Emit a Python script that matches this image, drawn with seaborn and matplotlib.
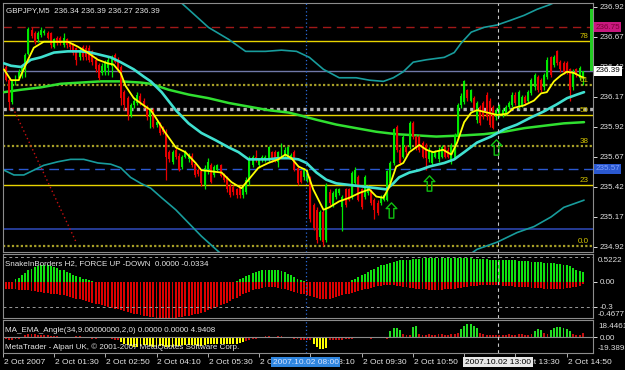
import numpy as np
import matplotlib
matplotlib.use("Agg")
import matplotlib.pyplot as plt
import matplotlib.transforms as mtransforms
from matplotlib.path import Path
import seaborn as sns

# ---------------- data ----------------
opens = [236.42, 236.31, 236.13, 236.30, 236.33, 236.35, 236.40, 236.53, 236.73, 236.70,
         236.65, 236.69, 236.70, 236.70, 236.70, 236.59, 236.66, 236.66, 236.60, 236.65,
         236.61, 236.61, 236.58, 236.50, 236.59, 236.58, 236.58, 236.55, 236.48, 236.44,
         236.37, 236.38, 236.41, 236.43, 236.52, 236.48, 236.42, 236.21, 236.16, 236.02,
         236.10, 236.12, 236.18, 236.14, 236.09, 236.00, 236.06, 235.94, 235.95, 235.91,
         235.88, 235.71, 235.63, 235.73, 235.68, 235.59, 235.67, 235.65, 235.68, 235.61,
         235.56, 235.55, 235.44, 235.55, 235.60, 235.52, 235.56, 235.60, 235.52, 235.50,
         235.43, 235.42, 235.40, 235.41, 235.35, 235.38, 235.46, 235.60, 235.67, 235.60,
         235.65, 235.65, 235.65, 235.71, 235.71, 235.63, 235.67, 235.68, 235.67, 235.67,
         235.71, 235.58, 235.55, 235.50, 235.48, 235.50, 235.27, 235.23, 235.00, 235.21,
         234.98, 235.38, 235.27, 235.34, 235.37, 235.25, 235.40, 235.40, 235.34, 235.45,
         235.50, 235.40, 235.34, 235.37, 235.38, 235.31, 235.29, 235.29, 235.31, 235.31,
         235.45, 235.62, 235.92, 235.73, 235.67, 235.75, 235.75, 235.95, 235.84, 235.84,
         235.79, 235.77, 235.65, 235.62, 235.67, 235.65, 235.67, 235.75, 235.73, 235.63,
         235.66, 235.84, 236.10, 236.13, 236.23, 236.14, 236.16, 235.98, 236.09, 236.12,
         236.19, 236.14, 236.09, 236.00, 236.02, 236.02, 236.04, 236.09, 236.10, 236.19,
         236.09, 236.10, 236.17, 236.14, 236.20, 236.25, 236.34, 236.31, 236.25, 236.34,
         236.50, 236.44, 236.55, 236.46, 236.45, 236.45, 236.40, 236.25, 236.40, 236.33,
         236.34]
highs = [236.44, 236.33, 236.31, 236.35, 236.40, 236.43, 236.54, 236.75, 236.75, 236.72,
         236.72, 236.75, 236.74, 236.72, 236.71, 236.66, 236.68, 236.68, 236.70, 236.66,
         236.63, 236.62, 236.59, 236.58, 236.60, 236.60, 236.60, 236.56, 236.50, 236.45,
         236.45, 236.48, 236.50, 236.52, 236.54, 236.50, 236.44, 236.23, 236.18, 236.12,
         236.17, 236.21, 236.20, 236.16, 236.10, 236.08, 236.08, 235.98, 235.96, 235.93,
         235.90, 235.73, 235.73, 235.75, 235.70, 235.69, 235.73, 235.70, 235.70, 235.63,
         235.58, 235.56, 235.60, 235.66, 235.62, 235.60, 235.61, 235.61, 235.54, 235.51,
         235.45, 235.44, 235.41, 235.43, 235.43, 235.50, 235.68, 235.69, 235.73, 235.66,
         235.69, 235.69, 235.76, 235.72, 235.73, 235.72, 235.79, 235.75, 235.76, 235.70,
         235.73, 235.60, 235.56, 235.58, 235.57, 235.51, 235.29, 235.25, 235.23, 235.23,
         235.45, 235.40, 235.39, 235.41, 235.41, 235.35, 235.41, 235.41, 235.55, 235.59,
         235.52, 235.41, 235.52, 235.44, 235.40, 235.33, 235.31, 235.35, 235.36, 235.56,
         235.64, 235.91, 235.94, 235.75, 235.85, 235.77, 235.97, 235.97, 235.85, 235.85,
         235.80, 235.79, 235.75, 235.72, 235.73, 235.75, 235.77, 235.77, 235.75, 235.79,
         235.87, 236.12, 236.20, 236.31, 236.24, 236.24, 236.18, 236.14, 236.10, 236.14,
         236.21, 236.16, 236.10, 236.08, 236.11, 236.08, 236.10, 236.14, 236.21, 236.21,
         236.23, 236.19, 236.19, 236.23, 236.33, 236.37, 236.35, 236.33, 236.37, 236.50,
         236.51, 236.52, 236.56, 236.48, 236.47, 236.47, 236.41, 236.40, 236.41, 236.43,
         236.39]
lows = [236.30, 236.06, 236.11, 236.27, 236.31, 236.33, 236.34, 236.52, 236.66, 236.61,
        236.63, 236.67, 236.69, 236.65, 236.58, 236.58, 236.60, 236.60, 236.59, 236.58,
        236.56, 236.52, 236.44, 236.48, 236.48, 236.48, 236.46, 236.44, 236.38, 236.31,
        236.35, 236.35, 236.35, 236.34, 236.45, 236.38, 236.10, 236.06, 235.98, 236.00,
        236.08, 236.10, 236.10, 236.08, 235.98, 235.91, 235.91, 235.92, 235.85, 235.86,
        235.48, 235.63, 235.61, 235.65, 235.55, 235.57, 235.66, 235.63, 235.59, 235.50,
        235.51, 235.43, 235.40, 235.53, 235.45, 235.50, 235.55, 235.50, 235.46, 235.38,
        235.34, 235.35, 235.33, 235.33, 235.33, 235.36, 235.44, 235.59, 235.63, 235.58,
        235.63, 235.63, 235.63, 235.63, 235.63, 235.59, 235.66, 235.66, 235.66, 235.66,
        235.55, 235.44, 235.45, 235.48, 235.46, 235.13, 235.06, 234.95, 234.98, 234.93,
        234.96, 235.27, 235.25, 235.32, 235.35, 235.05, 235.25, 235.30, 235.32, 235.44,
        235.30, 235.24, 235.32, 235.35, 235.27, 235.15, 235.19, 235.27, 235.30, 235.30,
        235.44, 235.60, 235.71, 235.60, 235.66, 235.69, 235.74, 235.82, 235.73, 235.71,
        235.66, 235.56, 235.63, 235.60, 235.66, 235.63, 235.66, 235.66, 235.66, 235.61,
        235.65, 235.82, 236.08, 236.11, 236.14, 236.13, 236.06, 235.95, 235.94, 235.99,
        235.98, 235.92, 235.90, 235.98, 236.00, 236.00, 236.02, 236.07, 236.09, 236.10,
        236.07, 236.09, 236.10, 236.13, 236.19, 236.23, 236.21, 236.21, 236.23, 236.32,
        236.34, 236.42, 236.44, 236.38, 236.36, 236.36, 236.14, 236.23, 236.34, 236.31,
        236.27]
closes = [236.31, 236.13, 236.30, 236.34, 236.38, 236.41, 236.52, 236.74, 236.68, 236.63,
          236.70, 236.73, 236.72, 236.66, 236.60, 236.65, 236.62, 236.62, 236.66, 236.60,
          236.59, 236.54, 236.48, 236.56, 236.50, 236.50, 236.48, 236.46, 236.40, 236.33,
          236.43, 236.45, 236.48, 236.50, 236.46, 236.40, 236.16, 236.10, 236.02, 236.10,
          236.14, 236.19, 236.12, 236.10, 236.00, 236.06, 235.92, 235.96, 235.87, 235.88,
          235.67, 235.65, 235.71, 235.67, 235.56, 235.67, 235.71, 235.69, 235.60, 235.52,
          235.53, 235.45, 235.58, 235.63, 235.46, 235.59, 235.60, 235.51, 235.48, 235.40,
          235.35, 235.38, 235.35, 235.35, 235.41, 235.48, 235.66, 235.67, 235.65, 235.65,
          235.67, 235.67, 235.75, 235.65, 235.65, 235.71, 235.75, 235.73, 235.75, 235.69,
          235.56, 235.45, 235.46, 235.56, 235.55, 235.15, 235.08, 234.98, 235.21, 234.96,
          235.44, 235.29, 235.37, 235.40, 235.40, 235.34, 235.27, 235.31, 235.54, 235.56,
          235.31, 235.25, 235.50, 235.42, 235.29, 235.23, 235.20, 235.34, 235.35, 235.55,
          235.62, 235.90, 235.73, 235.62, 235.84, 235.71, 235.95, 235.84, 235.75, 235.73,
          235.67, 235.66, 235.73, 235.71, 235.71, 235.73, 235.75, 235.67, 235.67, 235.77,
          235.85, 236.10, 236.18, 236.30, 236.16, 236.23, 236.08, 236.12, 235.95, 236.00,
          236.00, 235.94, 235.91, 236.06, 236.10, 236.06, 236.09, 236.12, 236.19, 236.12,
          236.21, 236.17, 236.12, 236.21, 236.31, 236.35, 236.23, 236.23, 236.35, 236.48,
          236.35, 236.50, 236.45, 236.40, 236.38, 236.38, 236.23, 236.38, 236.35, 236.41,
          236.39]

# moving averages / bands: (bar position, price) read at sample points
yellow_k = [-0.6, 1.6, 4.0, 6.9, 8.7, 11.8, 15.0, 19.3, 22.4, 25.5, 28.7, 31.8, 33.6, 35.8, 37.4,
            39.9, 43.0, 45.2, 46.7, 49.8, 53.0, 56.0, 59.2, 61.0, 64.2, 67.3, 70.4, 73.5, 75.7,
            78.8, 81.9, 85.0, 87.2, 89.1, 91.3, 93.8, 95.9, 99.1, 100.9, 104.0, 107.2, 110.3,
            113.4, 115.6, 117.8, 119.6, 121.8, 124.0, 125.9, 129.0, 131.2, 133.3, 136.4, 139.0,
            140.8, 143.0, 145.2, 147.0, 150.2, 153.3, 156.4, 158.6, 161.7, 164.8, 167.0, 168.8,
            171.0, 173.2, 175.1, 177.3, 179.4, 180.4]
yellow_p = [236.40, 236.31, 236.31, 236.48, 236.58, 236.63, 236.63, 236.63, 236.59, 236.54,
            236.48, 236.45, 236.44, 236.37, 236.26, 236.16, 236.10, 236.06, 236.00, 235.87,
            235.75, 235.71, 235.62, 235.56, 235.55, 235.54, 235.46, 235.41, 235.48, 235.58,
            235.62, 235.65, 235.69, 235.66, 235.59, 235.56, 235.40, 235.23, 235.25, 235.30,
            235.33, 235.37, 235.40, 235.34, 235.33, 235.42, 235.59, 235.62, 235.71, 235.77,
            235.73, 235.71, 235.73, 235.69, 235.79, 235.96, 236.04, 236.06, 236.04, 236.02,
            236.03, 236.08, 236.10, 236.14, 236.20, 236.21, 236.30, 236.35, 236.38, 236.37,
            236.34, 236.33]
cyan_k = [-0.6, 1.6, 4.7, 7.8, 10.9, 15.0, 19.3, 23.4, 26.5, 29.6, 32.7, 35.8, 39.9, 43.0, 45.2,
          48.6, 53.0, 57.0, 61.0, 65.4, 69.5, 72.6, 75.7, 78.8, 81.9, 85.0, 88.2, 91.3, 93.8,
          96.9, 100.0, 103.1, 106.2, 109.3, 112.5, 115.6, 118.7, 120.9, 122.7, 125.9, 129.0,
          132.1, 136.8, 139.9, 143.0, 147.0, 151.4, 155.5, 159.5, 163.9, 167.9, 172.0, 175.1,
          178.2, 180.4]
cyan_p = [236.45, 236.43, 236.42, 236.48, 236.50, 236.54, 236.55, 236.55, 236.54, 236.52,
          236.50, 236.46, 236.40, 236.34, 236.30, 236.21, 236.06, 235.95, 235.87, 235.81,
          235.75, 235.71, 235.65, 235.65, 235.65, 235.66, 235.66, 235.65, 235.62, 235.54,
          235.48, 235.45, 235.44, 235.43, 235.42, 235.41, 235.40, 235.45, 235.50, 235.54,
          235.56, 235.59, 235.62, 235.65, 235.71, 235.79, 235.84, 235.90, 235.94, 236.00,
          236.05, 236.11, 236.16, 236.19, 236.21]
green_k = [-0.6, 4.7, 10.9, 17.1, 23.4, 29.6, 35.8, 42.1, 45.2, 50.8, 57.0, 63.2, 69.5, 75.7,
           81.9, 88.2, 91.3, 96.9, 103.1, 109.3, 115.6, 121.8, 128.0, 134.3, 143.0, 149.2,
           155.5, 161.7, 167.9, 174.1, 180.4]
green_p = [236.21, 236.23, 236.25, 236.28, 236.29, 236.30, 236.30, 236.29, 236.28, 236.23,
           236.19, 236.16, 236.12, 236.09, 236.06, 236.04, 236.02, 235.98, 235.94, 235.91,
           235.88, 235.86, 235.85, 235.84, 235.85, 235.86, 235.88, 235.91, 235.93, 235.95,
           235.96]
upper_k = [51.4, 54.5, 57.0, 63.2, 69.5, 74.8, 81.0, 86.0, 90.7, 94.7, 99.1, 104.0, 109.3,
           113.4, 117.8, 120.9, 124.0, 127.1, 131.2, 136.8, 139.9, 142.1, 145.2, 149.2, 153.3,
           157.6, 161.7, 165.7, 169.8, 174.5]
upper_p = [237.02, 236.96, 236.90, 236.75, 236.65, 236.55, 236.55, 236.56, 236.55, 236.50,
           236.40, 236.33, 236.33, 236.31, 236.30, 236.33, 236.38, 236.46, 236.48, 236.50,
           236.54, 236.62, 236.71, 236.75, 236.77, 236.81, 236.85, 236.90, 236.94, 237.00]
lower1_k = [-0.6, 2.5, 5.6, 8.7, 11.8, 16.2, 20.2, 24.3, 28.7, 32.7, 35.8, 38.9, 42.1, 45.2,
            48.6, 53.0, 57.0, 61.0, 66.4, 70.0]
lower1_p = [235.56, 235.52, 235.52, 235.56, 235.60, 235.63, 235.65, 235.65, 235.62, 235.61,
            235.58, 235.50, 235.45, 235.41, 235.33, 235.23, 235.12, 235.01, 234.88, 234.80]
lower2_k = [141.7, 147.0, 153.3, 159.5, 164.8, 170.1, 174.1, 180.4]
lower2_p = [234.80, 234.90, 234.96, 235.04, 235.09, 235.17, 235.25, 235.31]

trend_k = [2.2, 22.1]
trend_p = [236.08, 234.95]
arrow_k = [120.2, 132.1, 153.0]
arrow_p = [235.23, 235.45, 235.75]

fib_prices = [236.64, 236.27, 236.02, 235.76, 235.44, 234.93]
fib_labels = ["78", "61", "50", "38", "23", "0.0"]
fib_kind = ["solid", "dot", "solid", "dot", "solid", "dot"]
day_high = 236.75
bid = 236.39
silver_level = 236.07
blue_dash_level = 235.57
blue_solid_level = 235.07
range_bar = [236.39, 236.90]

price_ticks = [234.92, 235.17, 235.42, 235.67, 235.92, 236.17, 236.42, 236.67, 236.92]

snake_up = [0, 0, 0, 0.03, 0.05, 0.08, 0.11, 0.14, 0.16, 0.18, 0.19, 0.2, 0.2, 0.2, 0.19, 0.18,
            0.17, 0.15, 0.14, 0.12, 0.11, 0.09, 0.07, 0.06, 0.04, 0.03, 0.02, 0.01,
            0, 0, 0, 0, 0, 0, 0, 0, 0, 0, 0, 0, 0, 0, 0, 0, 0, 0, 0, 0, 0, 0,
            0, 0, 0, 0, 0, 0, 0, 0, 0, 0, 0, 0, 0, 0, 0, 0, 0, 0, 0, 0, 0, 0,
            0.01, 0.03, 0.05, 0.07, 0.09, 0.11, 0.12, 0.13, 0.14, 0.15, 0.15, 0.15, 0.14, 0.14,
            0.13, 0.12, 0.1, 0.08, 0.06, 0.04, 0.02, 0.01,
            0, 0, 0, 0, 0, 0, 0, 0, 0, 0, 0, 0, 0, 0,
            0.02, 0.04, 0.06, 0.08, 0.1, 0.12, 0.14, 0.16, 0.18, 0.2,
            0.21, 0.22, 0.23, 0.24, 0.25, 0.26, 0.26, 0.27, 0.27, 0.28,
            0.28, 0.28, 0.29, 0.29, 0.29, 0.29, 0.29, 0.29, 0.29, 0.29, 0.29, 0.29, 0.29,
            0.29, 0.29, 0.29, 0.29, 0.29, 0.28, 0.28, 0.28, 0.28, 0.28,
            0.27, 0.27, 0.27, 0.27, 0.27, 0.26, 0.26, 0.26, 0.26, 0.25,
            0.25, 0.25, 0.25, 0.24, 0.24, 0.24, 0.24, 0.23, 0.23, 0.23,
            0.23, 0.22, 0.22, 0.21, 0.2, 0.19, 0.17, 0.15, 0.13, 0.12]
snake_down = [-0.08, -0.08, -0.09, -0.09, -0.1, -0.1, -0.1, -0.1, -0.11, -0.11, -0.12,
              -0.12, -0.13, -0.13, -0.14, -0.14, -0.15, -0.16, -0.16, -0.17, -0.18,
              -0.19, -0.2, -0.21, -0.22, -0.23, -0.24, -0.25, -0.26, -0.27, -0.28,
              -0.29, -0.3, -0.31, -0.32, -0.33, -0.34, -0.35, -0.36, -0.37, -0.38,
              -0.39, -0.4, -0.41, -0.41, -0.42, -0.42, -0.43, -0.43, -0.43, -0.43,
              -0.43, -0.43, -0.43, -0.42, -0.42, -0.41, -0.41, -0.4, -0.39, -0.38,
              -0.37, -0.36, -0.34, -0.33, -0.31, -0.3, -0.28, -0.26, -0.25, -0.23,
              -0.21, -0.19, -0.17, -0.15, -0.13, -0.12, -0.1, -0.09, -0.08, -0.07,
              -0.06, -0.06, -0.06, -0.06, -0.07, -0.08, -0.09, -0.1, -0.11, -0.12,
              -0.13, -0.14, -0.15, -0.16, -0.17, -0.18, -0.19, -0.2, -0.2, -0.2,
              -0.2, -0.19, -0.18, -0.17, -0.16, -0.15, -0.14, -0.13, -0.12, -0.11,
              -0.1, -0.09, -0.08, -0.07, -0.06, -0.05, -0.05, -0.04, -0.04, -0.04,
              -0.04, -0.05, -0.05, -0.06, -0.06, -0.07, -0.07, -0.08, -0.08, -0.09,
              -0.09, -0.1, -0.1, -0.1, -0.1, -0.1, -0.09, -0.09, -0.08, -0.08,
              -0.07, -0.07, -0.06, -0.06, -0.05, -0.05, -0.05, -0.04, -0.04, -0.04,
              -0.04, -0.04, -0.04, -0.04, -0.05, -0.05, -0.05, -0.05, -0.06, -0.06,
              -0.06, -0.06, -0.06, -0.07, -0.07, -0.07, -0.07, -0.08, -0.08, -0.08,
              -0.08, -0.08, -0.08, -0.08, -0.07, -0.07, -0.06, -0.06, -0.05, -0.03]
angle = [-2, -3, -3, -2, -2, -1,
         3, 4, 4, 4, 3, 3, 2, 2, 1,
         1, 1, 0, 0, -1, -1, 0, 1, 1, 0, -1, -1, -2, -2, -1, 0, 0, -1, -2, -3,
         -4, -6, -8, -10, -11, -12, -12, -11, -10, -10, -11, -12, -12, -11, -11,
         -12, -12, -12, -11, -11, -10, -10, -10, -10, -10, -11, -11, -10, -9, -9,
         -9, -9, -8, -8, -9, -9, -9, -8, -7, -6, -5,
         -3, -2, -2, -1, 0, 1, 1, 0, 0, 1, 1, 0, -1, -1, -2, -2, -3,
         -3, -4, -4,
         -8, -12, -15, -15, -13,
         -4, -4, -3, -3, -3, -2,
         -2, -2, -1, -1, -1, -1, -1, -2, -1, -1, -1, -1, -2,
         8, 11, 11, 9,
         4, 3, 3,
         12, 13,
         4, 3, 3, 4, 3, 3, 4, 4, 3, 3, 4, 4, 5,
         10, 14, 16, 16, 14, 11,
         5, 4, 3, 3, 2, 2,
         2, 3, 3, 4, 3, 3, 4, 4, 3, 3, 4,
         8, 10, 9,
         5, 4,
         9, 11, 12, 12, 11, 10, 8,
         4, 3, 3, 4.94]

time_k = [-0.9, 15, 30.8, 47, 63, 79, 95, 111, 127, 143, 159, 175]
time_labels = ["2 Oct 2007", "2 Oct 01:30", "2 Oct 02:50", "2 Oct 04:10", "2 Oct 05:30",
               "2 Oct 06:50", "2 Oct 08:10", "2 Oct 09:30", "2 Oct 10:50", "2 Oct 12:10",
               "2 Oct 13:30", "2 Oct 14:50"]
sep_blue_k, sep_blue_label = 93.5, "2007.10.02 08:00"
sep_white_k, sep_white_label = 153.6, "2007.10.02 13:00"

# ---------------- style ----------------
sns.set_theme(style="dark", rc={
    "axes.facecolor": "black", "figure.facecolor": "black",
    "axes.edgecolor": "#8c8c8c", "axes.grid": False,
    "text.color": "#e6e6e6", "xtick.color": "#d0d0d0", "ytick.color": "#d0d0d0",
})
plt.rcParams["font.family"] = ["Liberation Sans", "DejaVu Sans"]

W, H = 625, 370
fig = plt.figure(figsize=(W / 100, H / 100), dpi=100)


def box(l, t, r, b):
    return [l / W, 1 - b / H, (r - l) / W, (b - t) / H]


def fx(px):
    return px / W


def fy(py):
    return 1 - py / H


ax = fig.add_axes(box(3, 3, 593, 252))
ax1 = fig.add_axes(box(3, 254, 593, 318), sharex=ax)
ax2 = fig.add_axes(box(3, 320, 593, 353), sharex=ax)

BULL, BEAR = "#00e800", "#e80000"
FS = 5.8

# ---------------- main panel ----------------
o = np.array(opens); c = np.array(closes); h = np.array(highs); l = np.array(lows)
x = np.arange(len(c))
col = np.where(c >= o, BULL, BEAR)

# level lines
for p, lab, kind in zip(fib_prices, fib_labels, fib_kind):
    if kind == "solid":
        ax.axhline(p, color="#e8d400", lw=1.0, zorder=1)
    else:
        ax.axhline(p, color="#a8a028", lw=1.6, ls=(0, (1, 1)), zorder=1)
    ax.text(181.9, p + 0.008, lab, ha="right", va="bottom", color="#d8c800",
            fontsize=FS, zorder=6)
ax.axhline(day_high, color="#a01818", lw=1.0, ls=(0, (6, 4)), zorder=1)
ax.axhline(bid, color="#7078a8", lw=1.0, zorder=1)
ax.axhline(silver_level, color="#b4b4b4", lw=2.4, ls=(0, (1, 1)), zorder=1)
ax.axhline(blue_dash_level, color="#2a58d0", lw=1.0, ls=(0, (7, 4)), zorder=1)
ax.axhline(blue_solid_level, color="#2840a0", lw=1.3, zorder=1)

# trendline
ax.plot(trend_k, trend_p, color="#c81010", lw=1.0, ls=(0, (1, 2)), zorder=2)

# bands and moving averages (seaborn)
sns.lineplot(x=upper_k, y=upper_p, ax=ax, color="#189c9c", lw=1.2, sort=False, estimator=None, zorder=2)
sns.lineplot(x=lower1_k, y=lower1_p, ax=ax, color="#189c9c", lw=1.2, sort=False, estimator=None, zorder=2)
sns.lineplot(x=lower2_k, y=lower2_p, ax=ax, color="#189c9c", lw=1.2, sort=False, estimator=None, zorder=2)
sns.lineplot(x=green_k, y=green_p, ax=ax, color="#30e030", lw=1.8, sort=False, estimator=None, zorder=3)

# candles
ax.vlines(x, l, h, colors=col, lw=0.9, zorder=4)
body = np.maximum(np.abs(c - o), 0.006)
ax.bar(x, body, bottom=np.minimum(o, c), width=0.62, color=col, linewidth=0, zorder=4)

sns.lineplot(x=cyan_k, y=cyan_p, ax=ax, color="#40e0d0", lw=1.9, sort=False, estimator=None, zorder=5)
sns.lineplot(x=yellow_k, y=yellow_p, ax=ax, color="#ffff00", lw=1.3, sort=False, estimator=None, zorder=5)

# arrows
arrow_path = Path([(0, 1), (0.7, 0.25), (0.3, 0.25), (0.3, -1), (-0.3, -1), (-0.3, 0.25),
                   (-0.7, 0.25), (0, 1)], closed=True)
ax.plot(arrow_k, arrow_p, ls="none", marker=arrow_path, ms=11, mfc="none",
        mec="#10c010", mew=1.0, zorder=6)

# right range bar
ax.bar([182.6], [range_bar[1] - range_bar[0]], bottom=range_bar[0], width=0.9,
       color="#22cc22", linewidth=0, zorder=6)

ax.set_xlim(-0.62, 183.2)
ax.set_ylim(234.878, 236.953)
ax.yaxis.tick_right()
ax.set_yticks(price_ticks)
ax.set_yticklabels([f"{t:.2f}" for t in price_ticks])
ax.tick_params(axis="y", colors="#e0e0e0", labelsize=FS, length=3, width=0.7,
               direction="out", pad=1.5, right=True, left=False)
ax.tick_params(axis="x", bottom=False, labelbottom=False)
ax.set_xlabel(""); ax.set_ylabel("")

tr = mtransforms.blended_transform_factory(ax.transAxes, ax.transData)
ax.text(1.004, day_high, f"{day_high:.2f}", transform=tr, va="center", ha="left",
        fontsize=FS, color="#7a0036", zorder=10,
        bbox=dict(boxstyle="square,pad=0.18", fc="#c8187e", ec="none"))
ax.text(1.004, bid, f"{bid:.2f}", transform=tr, va="center", ha="left",
        fontsize=FS, color="black", zorder=10,
        bbox=dict(boxstyle="square,pad=0.18", fc="white", ec="none"))
ax.text(1.004, blue_dash_level, f"{blue_dash_level:.2f}", transform=tr, va="center",
        ha="left", fontsize=FS, color="#80a0ff", zorder=10,
        bbox=dict(boxstyle="square,pad=0.18", fc="#2a58d0", ec="none"))

fig.text(fx(6), fy(11), "GBPJPY,M5  236.34 236.39 236.27 236.39", fontsize=FS,
         color="#e6e6e6", va="center", ha="left")

# ---------------- SnakeInBorders panel ----------------
ax1.bar(x, snake_up, width=0.6, color="#10e010", linewidth=0)
ax1.bar(x, snake_down, width=0.6, color="#dd0000", linewidth=0)
for lv in (0.3, -0.3):
    ax1.axhline(lv, color="#9a9a9a", lw=0.7, ls=(0, (3, 3)))
ax1.set_ylim(-0.434, 0.337)
ax1.yaxis.tick_right()
ax1.set_yticks([0.0, -0.3])
ax1.set_yticklabels(["0.00", "-0.3"])
ax1.tick_params(axis="y", colors="#e0e0e0", labelsize=FS, length=3, width=0.7,
                direction="out", pad=1.5, right=True, left=False)
ax1.tick_params(axis="x", bottom=False, labelbottom=False)
ax1.set_xlabel(""); ax1.set_ylabel("")
fig.text(fx(598), fy(261), "0.5222", fontsize=FS, color="#e0e0e0", va="center", ha="left")
fig.text(fx(598), fy(315), "-0.4677", fontsize=FS, color="#e0e0e0", va="center", ha="left")
fig.text(fx(5), fy(264), "SnakeInBorders H2, FORCE UP -DOWN  0.0000 -0.0334", fontsize=FS,
         color="#e6e6e6", va="center", ha="left", zorder=10)

# ---------------- MA_EMA_Angle panel ----------------
ang = np.array(angle, dtype=float)
acol = np.where(ang >= 6, "#22dd22", np.where(ang <= -6, "#ffff00", "#c81010"))
ax2.bar(x, ang, width=0.6, color=acol, linewidth=0)
ax2.axhline(0, color="#8a8a8a", lw=0.8)
ax2.set_ylim(-19.39, 20.89)
ax2.yaxis.tick_right()
ax2.set_yticks([0.0])
ax2.set_yticklabels(["0.00"])
ax2.tick_params(axis="y", colors="#e0e0e0", labelsize=FS, length=3, width=0.7,
                direction="out", pad=1.5, right=True, left=False)
ax2.set_xticks(time_k)
ax2.tick_params(axis="x", bottom=True, labelbottom=False, length=3, width=0.7,
                colors="#b0b0b0", direction="out")
ax2.set_xlabel(""); ax2.set_ylabel("")
fig.text(fx(598), fy(327), "18.4461", fontsize=FS, color="#e0e0e0", va="center", ha="left")
fig.text(fx(598), fy(349), "-19.3893", fontsize=FS, color="#e0e0e0", va="center", ha="left")
fig.text(fx(5), fy(331), "MA_EMA_Angle(34,9.00000000,2,0) 0.0000 0.0000 4.9408", fontsize=FS,
         color="#e6e6e6", va="center", ha="left", zorder=10)
fig.text(fx(5), fy(347), "MetaTrader - Alpari UK, \u00a9 2001-2007 MetaQuotes Software Corp.",
         fontsize=FS, color="#e6e6e6", va="center", ha="left", zorder=10)

# separators
for a in (ax, ax1, ax2):
    a.axvline(sep_blue_k, color="#2a6ad8", lw=0.9, ls=(0, (1, 2)), zorder=7)
    a.axvline(sep_white_k, color="#c8c8c8", lw=0.8, ls=(0, (3, 3)), zorder=7)
    for s in a.spines.values():
        s.set_color("#8c8c8c"); s.set_linewidth(0.8)

# time axis labels
ttr = mtransforms.blended_transform_factory(ax2.transData, fig.transFigure)
for k, lab in zip(time_k, time_labels):
    ax2.text(k + 0.3, fy(362), lab, transform=ttr, fontsize=6.0, color="#e6e6e6",
             va="center", ha="left", clip_on=False)
ax2.text(sep_blue_k, fy(362), sep_blue_label, transform=ttr, fontsize=6.0, color="#d8e4ff",
         va="center", ha="center", clip_on=False, zorder=10,
         bbox=dict(boxstyle="square,pad=0.2", fc="#2f86e0", ec="none"))
ax2.text(sep_white_k, fy(362), sep_white_label, transform=ttr, fontsize=6.0, color="black",
         va="center", ha="center", clip_on=False, zorder=10,
         bbox=dict(boxstyle="square,pad=0.2", fc="#e8e8e8", ec="none"))

fig.savefig("out.png", dpi=100, facecolor="black")
